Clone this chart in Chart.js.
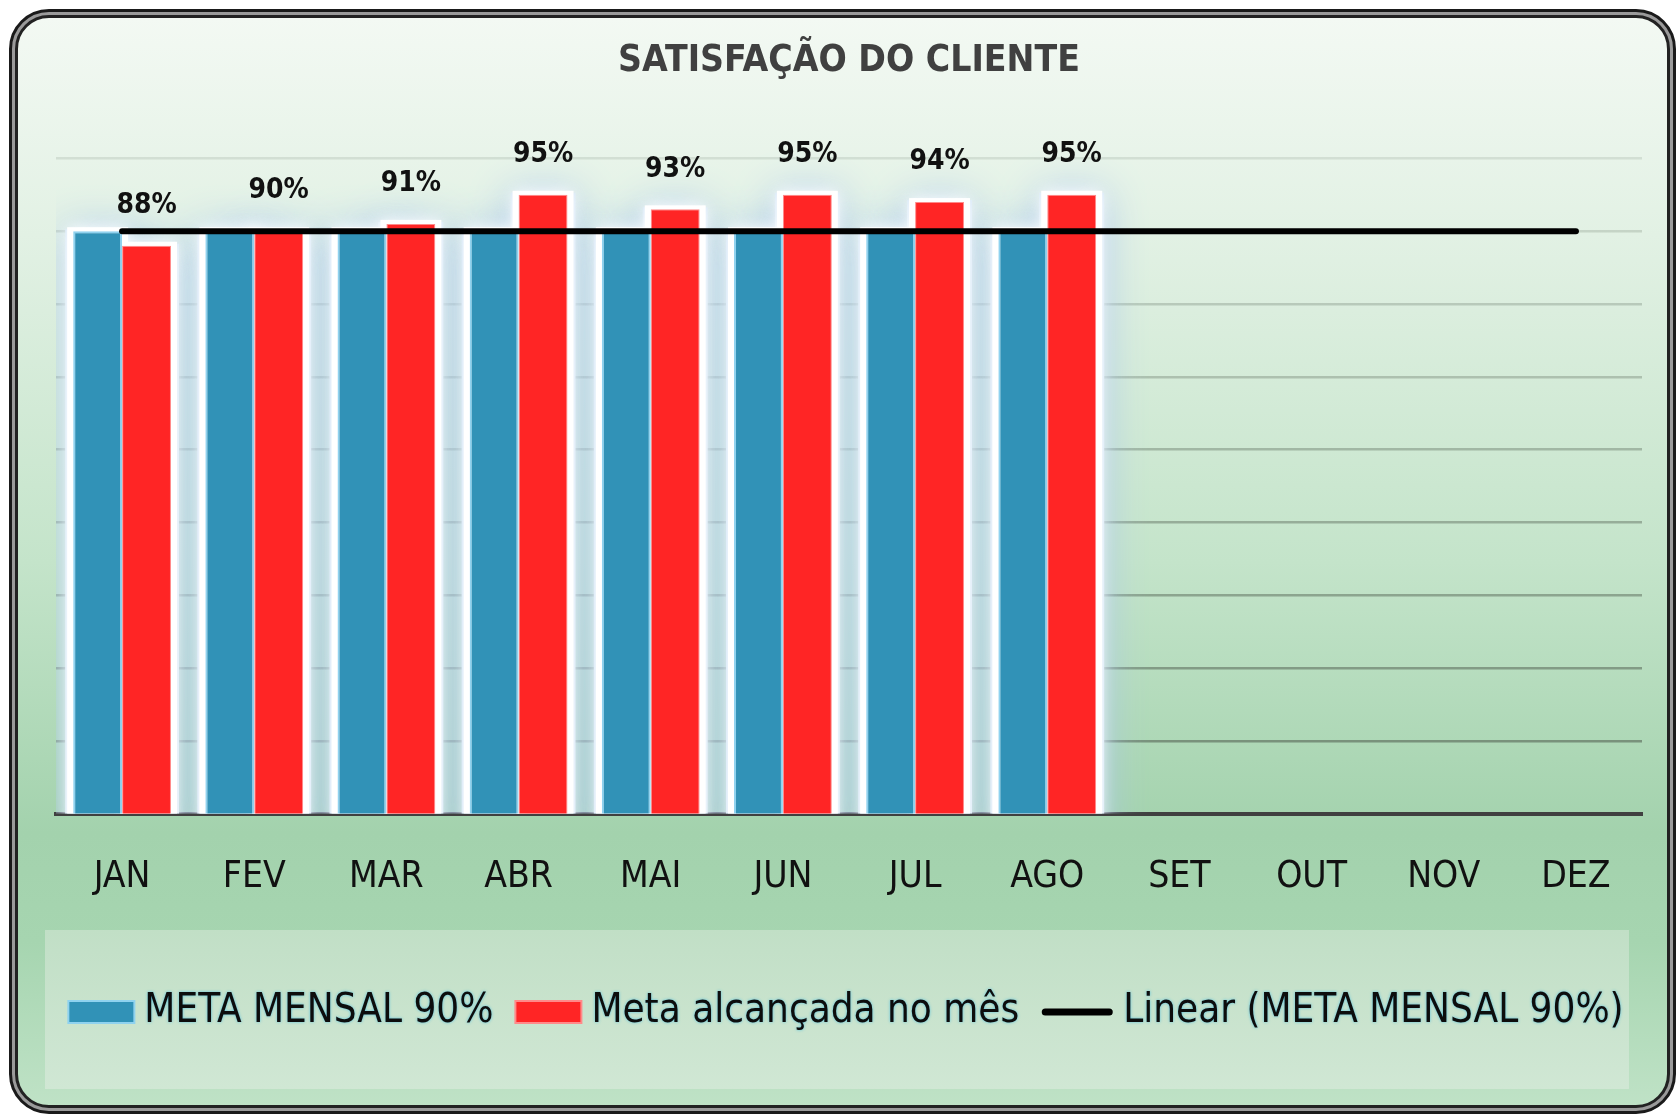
<!DOCTYPE html>
<html>
<head>
<meta charset="utf-8">
<script src="https://cdn.jsdelivr.net/npm/chart.js@4.4.1/dist/chart.umd.min.js"></script>
<style>
  html, body { margin: 0; padding: 0; background: #fff; }
  body { width: 1677px; height: 1117px; position: relative; overflow: hidden; }
  #frame {
    position: absolute; left: 9px; top: 9px; width: 1667px; height: 1105px;
    border: 3px solid #1a1a1a; border-radius: 40px; background: #9a9a9a; padding: 3px;
    box-sizing: border-box;
  }
  #inner {
    width: 100%; height: 100%; box-sizing: border-box;
    border: 3px solid #222; border-radius: 34px;
    background: linear-gradient(to bottom, #f3f9f3 0%, #e2f1e4 20%, #c4e4ca 50%, #a3d2ad 75%, #a6d5b0 85%, #bfe2c6 100%);
  }
  #legendBox {
    position: absolute; left: 45px; top: 930px; width: 1584px; height: 159px;
    background: linear-gradient(to bottom, #c1dfc6, #d0e7d4);
  }
  #chart { position: absolute; left: 0; top: 0; }
</style>
</head>
<body>
<div id="frame"><div id="inner"></div></div>
<div id="legendBox"></div>
<canvas id="chart" width="1677" height="1117"></canvas>
<script>
// Dati del grafico
const months = ['JAN', 'FEV', 'MAR', 'ABR', 'MAI', 'JUN', 'JUL', 'AGO', 'SET', 'OUT', 'NOV', 'DEZ'];
const metaMensal = [0.90, 0.90, 0.90, 0.90, 0.90, 0.90, 0.90, 0.90];
const metaAlcancada = [0.88, 0.90, 0.91, 0.95, 0.93, 0.95, 0.94, 0.95];
const linearMeta = [0.90, 0.90, 0.90, 0.90, 0.90, 0.90, 0.90, 0.90, 0.90, 0.90, 0.90, 0.90];

const FONT = '"Liberation Sans Narrow", "DejaVu Sans Condensed", Lato, sans-serif';

// Alone bianco-azzurro dietro le barre
const glowPlugin = {
    id: 'glow',
    beforeDatasetsDraw(chart) {
        const ctx = chart.ctx;
        const a = chart.chartArea;
        ctx.save();
        ctx.beginPath();
        ctx.rect(a.left, a.top - 40, a.right - a.left, a.bottom - a.top + 40);
        ctx.clip();
        const bars = [];
        [0, 1].forEach(di => chart.getDatasetMeta(di).data.forEach(b => bars.push(b)));
        bars.forEach(bar => {
            const w = bar.width, x = bar.x - w / 2, y = bar.y, h = a.bottom - bar.y;
            ctx.shadowColor = 'rgba(170,200,235,1)';
            ctx.shadowBlur = 40;
            ctx.fillStyle = '#d4e6f6';
            ctx.fillRect(x - 8, y - 2, w + 16, h + 30);
        });
        bars.forEach(bar => {
            const w = bar.width, x = bar.x - w / 2, y = bar.y, h = a.bottom - bar.y;
            ctx.shadowColor = 'rgba(255,255,255,1)';
            ctx.shadowBlur = 14;
            ctx.fillStyle = '#ffffff';
            ctx.fillRect(x - 6, y - 4, w + 12, h + 30);
        });
        ctx.restore();
    }
};

// Etichette percentuali sopra le barre rosse
const labelPlugin = {
    id: 'valueLabels',
    afterDatasetsDraw(chart) {
        const ctx = chart.ctx;
        const meta = chart.getDatasetMeta(1);
        ctx.save();
        ctx.font = 'bold 28px ' + FONT;
        ctx.fillStyle = '#111';
        ctx.textAlign = 'center';
        ctx.textBaseline = 'middle';
        meta.data.forEach((bar, i) => {
            ctx.fillText(Math.round(metaAlcancada[i] * 100) + '%', bar.x, bar.y - 40);
        });
        ctx.restore();
    }
};

// Legenda disegnata a mano
const legendPlugin = {
    id: 'customLegend',
    afterDraw(chart) {
        const ctx = chart.ctx;
        ctx.save();
        ctx.font = '40px ' + FONT;
        ctx.textBaseline = 'middle';
        const cy = 1012;
        const items = chart.data.datasets.map(ds => ({
            ds, w: ds.type === 'line' ? 72 : 66, tw: ctx.measureText(ds.label).width
        }));
        const gapBox = 10, gapItem = 22;
        let total = 0;
        items.forEach((it, i) => { total += it.w + gapBox + it.tw + (i < items.length - 1 ? gapItem : 0); });
        let x = 846 - total / 2;
        items.forEach(it => {
            const ds = it.ds;
            if (ds.type === 'line') {
                ctx.strokeStyle = '#000';
                ctx.lineWidth = 7;
                ctx.lineCap = 'round';
                ctx.beginPath();
                ctx.moveTo(x + 4, cy);
                ctx.lineTo(x + it.w - 4, cy);
                ctx.stroke();
            } else {
                ctx.fillStyle = ds.backgroundColor;
                ctx.fillRect(x, cy - 11, it.w, 22);
                ctx.strokeStyle = ds.borderColor;
                ctx.lineWidth = 2;
                ctx.strokeRect(x, cy - 11, it.w, 22);
            }
            x += it.w + gapBox;
            ctx.shadowColor = 'rgba(70,190,225,0.9)';
            ctx.shadowBlur = 3;
            ctx.fillStyle = '#0d0d0d';
            ctx.fillText(ds.label, x, cy);
            ctx.shadowBlur = 0;
            x += it.tw + gapItem;
        });
        ctx.restore();
    }
};

const chart = new Chart(document.getElementById('chart').getContext('2d'), {
    type: 'bar',
    data: {
        labels: months,
        datasets: [{
            label: 'META MENSAL 90%',
            data: metaMensal,
            backgroundColor: '#3192b7',
            borderColor: '#8fd2ef',
            borderWidth: 2,
            order: 1
        }, {
            label: 'Meta alcançada no mês',
            data: metaAlcancada,
            backgroundColor: '#ff2525',
            borderColor: '#ff8a8a',
            borderWidth: 1,
            order: 1
        }, {
            type: 'line',
            label: 'Linear (META MENSAL 90%)',
            data: linearMeta,
            borderColor: '#000',
            borderWidth: 6,
            borderCapStyle: 'round',
            pointRadius: 0,
            fill: false,
            order: 0
        }]
    },
    options: {
        responsive: false,
        animation: false,
        datasets: { bar: { barPercentage: 1, categoryPercentage: 0.74 } },
        layout: { padding: { left: 56, right: 35, top: 0, bottom: 175 } },
        plugins: {
            legend: { display: false },
            tooltip: { enabled: false },
            title: {
                display: true,
                text: 'SATISFAÇÃO DO CLIENTE',
                color: '#404040',
                font: { family: FONT, size: 37, weight: 'bold', lineHeight: 1.2 },
                padding: { top: 39, bottom: 75 }
            }
        },
        scales: {
            x: {
                z: 1,
                grid: { display: false, drawTicks: false },
                border: { display: true, color: '#404040', width: 4 },
                ticks: { color: '#111', font: { family: FONT, size: 37, lineHeight: 1.2 }, padding: 42 }
            },
            y: {
                min: 0.1,
                max: 1.0,
                ticks: { display: false, stepSize: 0.1 },
                border: { display: false },
                grid: {
                    drawTicks: false,
                    lineWidth: 2.5,
                    color: c => 'rgba(90,105,90,' + (0.15 + (1 - c.tick.value) * 0.6).toFixed(2) + ')'
                }
            }
        }
    },
    plugins: [glowPlugin, labelPlugin, legendPlugin]
});
</script>
</body>
</html>
